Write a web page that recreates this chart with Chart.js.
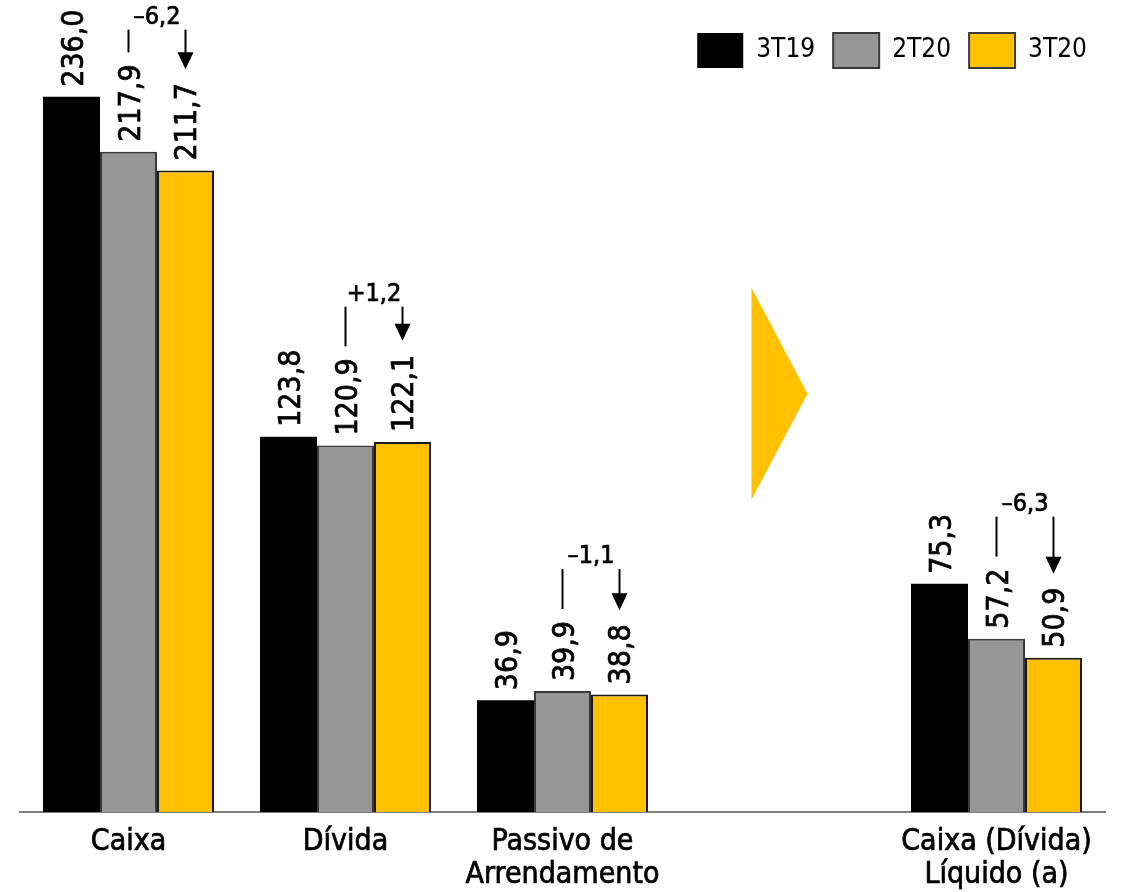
<!DOCTYPE html>
<html>
<head>
<meta charset="utf-8">
<script src="https://cdn.jsdelivr.net/npm/chart.js@4/dist/chart.umd.min.js"></script>
<style>
  body { margin: 0; background: #fff; }
  #wrap { width: 1125px; height: 892px; position: relative; }
</style>
</head>
<body>
<div id="wrap"><canvas id="chart"></canvas></div>
<script>
const categories = ["Caixa", "Dívida", ["Passivo de", "Arrendamento"], "", ["Caixa (Dívida)", "Líquido (a)"]];
const seriesNames = ["3T19", "2T20", "3T20"];
const q3t19 = [236.0, 123.8, 36.9, null, 75.3];
const q2t20 = [217.9, 120.9, 39.9, null, 57.2];
const q3t20 = [211.7, 122.1, 38.8, null, 50.9];
const deltas = ["–6,2", "+1,2", "–1,1", null, "–6,3"];

const FONT = "'DejaVu Sans Condensed', 'Liberation Sans Narrow', 'DejaVu Sans', sans-serif";
const YELLOW = "#FFC000";

const fmt = v => v.toFixed(1).replace(".", ",");

// value labels (rotated), delta brackets and the big arrow
const annotate = {
  id: "annotate",
  afterDatasetsDraw(chart) {
    const ctx = chart.ctx;
    const x = chart.scales.x, y = chart.scales.y;
    const metas = [0, 1, 2].map(i => chart.getDatasetMeta(i));
    const labelTop = [];

    ctx.save();
    ctx.fillStyle = "#000";
    ctx.strokeStyle = "#000";
    ctx.lineWidth = 0.7;
    ctx.font = "30px " + FONT;
    metas.forEach((meta, i) => {
      labelTop[i] = [];
      chart.data.datasets[i].data.forEach((v, j) => {
        if (v == null) return;
        const bar = meta.data[j];
        const txt = fmt(v);
        const w = ctx.measureText(txt).width;
        const start = bar.y - 10;
        ctx.save();
        ctx.translate(bar.x, start);
        ctx.rotate(-Math.PI / 2);
        ctx.textAlign = "left";
        ctx.textBaseline = "alphabetic";
        ctx.fillText(txt, 0, 11);
        ctx.strokeText(txt, 0, 11);
        ctx.restore();
        labelTop[i][j] = start - w;
      });
    });

    // delta brackets
    ctx.font = "25px " + FONT;
    ctx.textAlign = "center";
    ctx.textBaseline = "alphabetic";
    deltas.forEach((d, j) => {
      if (d == null) return;
      const b2 = metas[1].data[j], b3 = metas[2].data[j];
      const x2 = b2.x, x3 = b3.x;
      const t2 = labelTop[1][j], t3 = labelTop[2][j];
      const tip = t3 - 14;
      const T = Math.min(b2.y - 122, t2 - 34, tip - 34);
      ctx.lineWidth = 2;
      ctx.beginPath();
      ctx.moveTo(x2, T);
      ctx.lineTo(x2, t2 - 12);
      ctx.stroke();
      ctx.beginPath();
      ctx.moveTo(x3, T);
      ctx.lineTo(x3, tip - 15);
      ctx.stroke();
      ctx.beginPath();
      ctx.moveTo(x3 - 8, tip - 17);
      ctx.lineTo(x3 + 8, tip - 17);
      ctx.lineTo(x3, tip);
      ctx.closePath();
      ctx.fill();
      ctx.lineWidth = 0.7;
      ctx.fillText(d, (x2 + x3) / 2, T - 6);
      ctx.strokeText(d, (x2 + x3) / 2, T - 6);
    });

    // big yellow arrow in the empty slot
    const cx = x.getPixelForValue(3);
    ctx.fillStyle = YELLOW;
    ctx.beginPath();
    ctx.moveTo(cx - 28, y.getPixelForValue(173));
    ctx.lineTo(cx + 28, y.getPixelForValue(138));
    ctx.lineTo(cx - 28, y.getPixelForValue(103));
    ctx.closePath();
    ctx.fill();
    ctx.restore();
  }
};

new Chart(document.getElementById("chart"), {
  type: "bar",
  data: {
    labels: categories,
    datasets: [
      { label: seriesNames[0], data: q3t19, backgroundColor: "#000000", borderColor: "#000000", borderWidth: 0 },
      { label: seriesNames[1], data: q2t20, backgroundColor: "#969696", borderColor: "#3a3a3a", borderWidth: 2 },
      { label: seriesNames[2], data: q3t20, backgroundColor: YELLOW, borderColor: "#1a1a1a", borderWidth: 2 }
    ]
  },
  options: {
    responsive: true,
    maintainAspectRatio: false,
    animation: false,
    categoryPercentage: 0.788,
    barPercentage: 1.0,
    layout: { padding: { left: 20, right: 20, top: 15, bottom: -14 } },
    plugins: {
      legend: {
        position: "top",
        align: "end",
        labels: {
          boxWidth: 46,
          boxHeight: 35,
          padding: 18,
          color: "#000",
          font: { family: FONT, size: 26 },
          generateLabels(chart) {
            return chart.data.datasets.map((ds, i) => ({
              text: ds.label,
              fillStyle: ds.backgroundColor,
              strokeStyle: i === 0 ? "#000" : "#3a3a3a",
              lineWidth: i === 0 ? 0 : 2,
              datasetIndex: i
            }));
          }
        }
      },
      tooltip: { enabled: false }
    },
    scales: {
      x: {
        grid: { display: false, drawTicks: false },
        border: { display: true, color: "#7f7f7f", width: 2 },
        ticks: {
          color: "#000",
          padding: 14,
          maxRotation: 0,
          autoSkip: false,
          textStrokeColor: "#000",
          textStrokeWidth: 0.7,
          font: { family: FONT, size: 30, lineHeight: 1.1 }
        }
      },
      y: {
        display: false,
        min: 0,
        max: 242.2
      }
    }
  },
  plugins: [annotate]
});
</script>
</body>
</html>
